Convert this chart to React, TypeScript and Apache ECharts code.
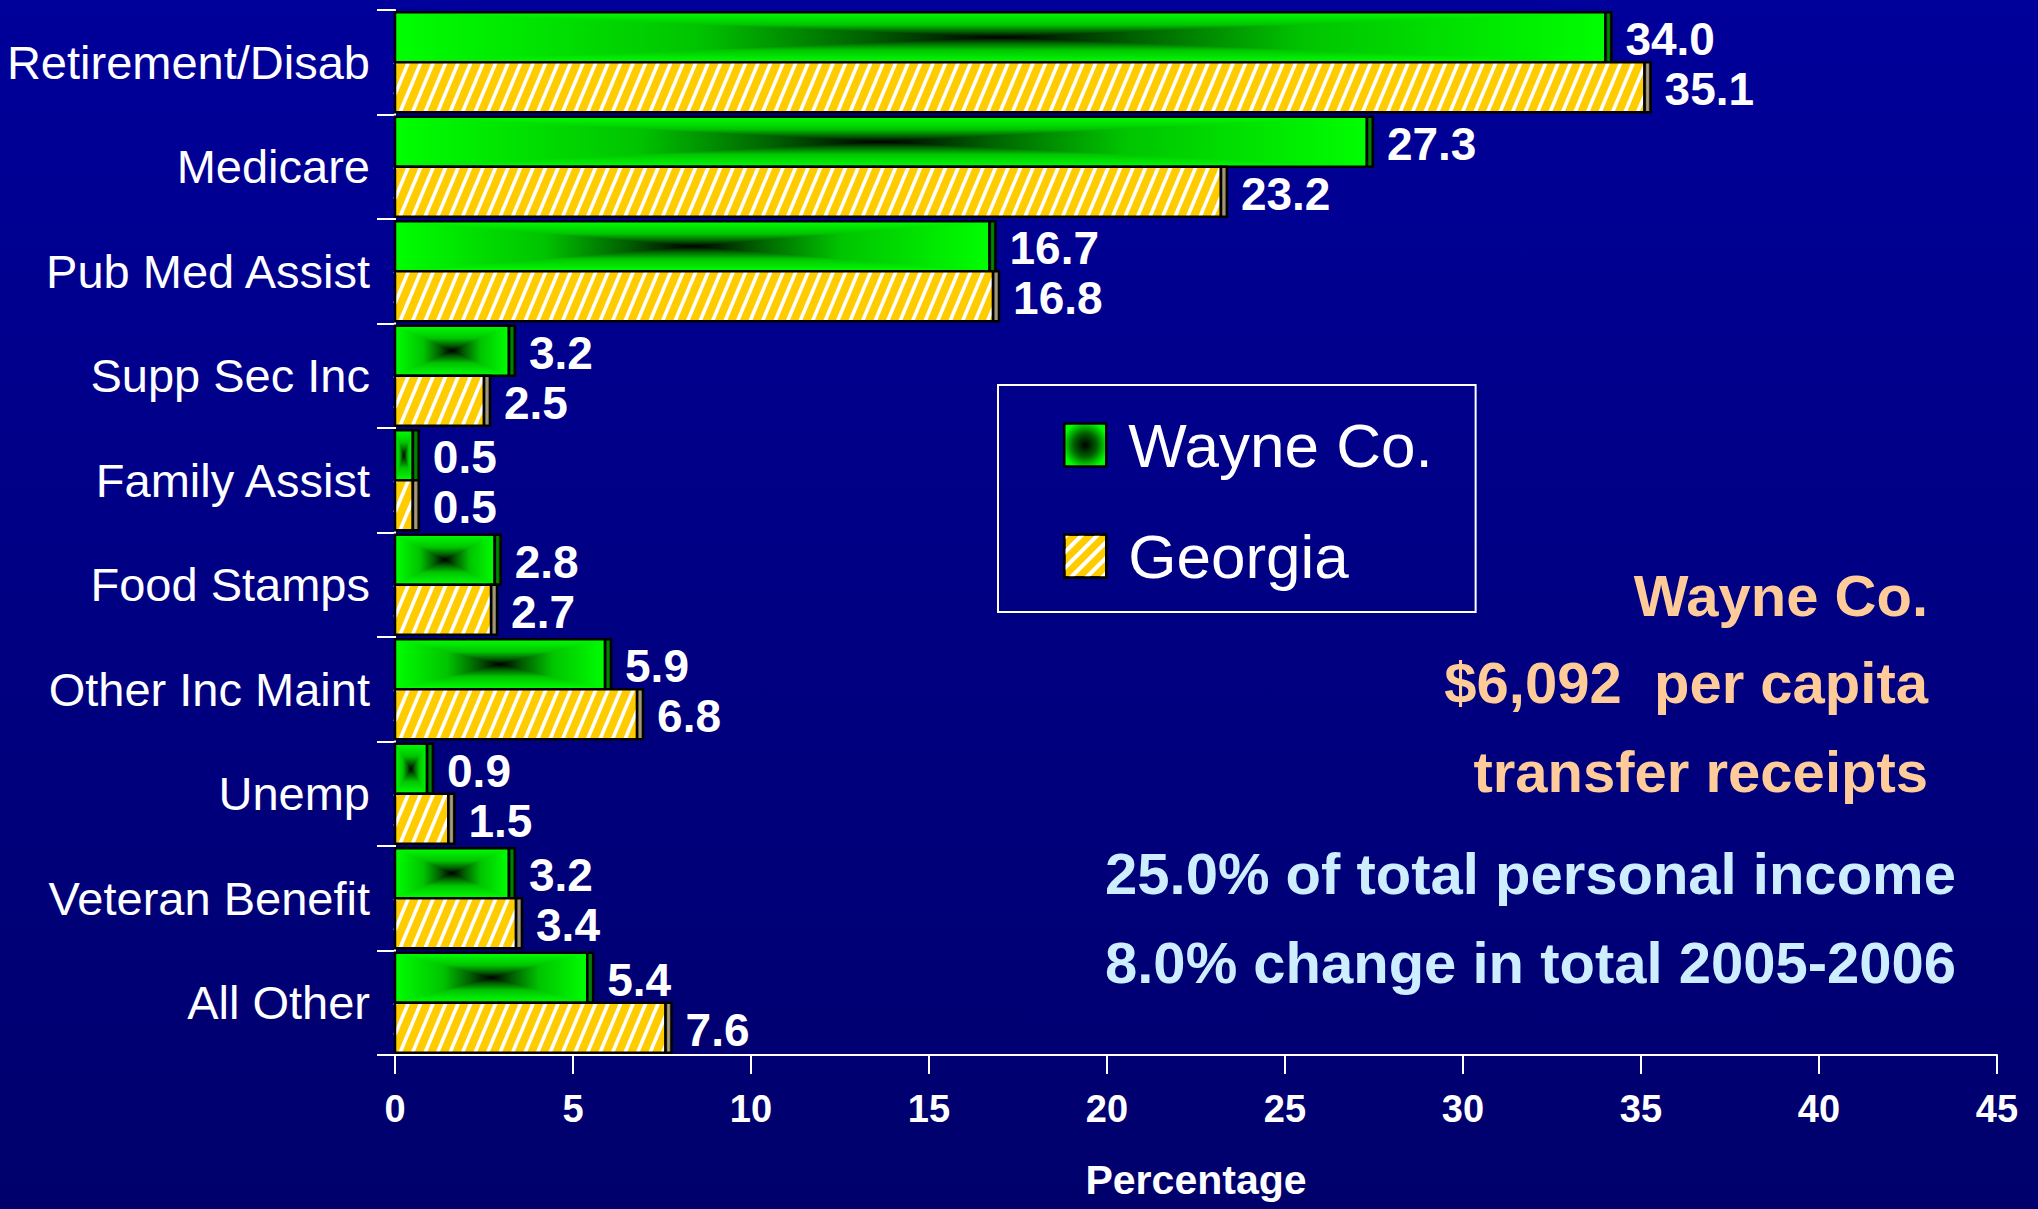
import React, { useEffect, useRef } from 'react';
import * as echarts from 'echarts';

// ---------- data ----------
const categories = [
  'Retirement/Disab',
  'Medicare',
  'Pub Med Assist',
  'Supp Sec Inc',
  'Family Assist',
  'Food Stamps',
  'Other Inc Maint',
  'Unemp',
  'Veteran Benefit',
  'All Other',
];
const wayneValues = [34.0, 27.3, 16.7, 3.2, 0.5, 2.8, 5.9, 0.9, 3.2, 5.4];
const georgiaValues = [35.1, 23.2, 16.8, 2.5, 0.5, 2.7, 6.8, 1.5, 3.4, 7.6];
const seriesNames = ['Wayne Co.', 'Georgia'];
const xMin = 0;
const xMax = 45;
const xInterval = 5;
const axisTitle = 'Percentage';
const noteLines = ['Wayne Co.', '$6,092  per capita', 'transfer receipts'];
const statLines = ['25.0% of total personal income', '8.0% change in total 2005-2006'];

// ---------- styles ----------
const SANS = "'Liberation Sans', Arial, Helvetica, sans-serif";
const greenStops: [number, string][] = [
  [0, '#00ff00'],
  [0.5, '#00c400'],
  [0.78, '#006000'],
  [1, '#000000'],
];

function lin(x: number, y: number, x2: number, y2: number, stops: [number, string][]) {
  return {
    type: 'linear',
    x,
    y,
    x2,
    y2,
    colorStops: stops.map(([offset, color]) => ({ offset, color })),
  };
}

function symmetricStops(stops: [number, string][]): [number, string][] {
  const first = stops.map(([o, c]) => [o * 0.5, c] as [number, string]);
  const second = stops
    .slice(0, -1)
    .reverse()
    .map(([o, c]) => [1 - o * 0.5, c] as [number, string]);
  return [...first, ...second];
}

function makeRenderItem(kind: 'green' | 'yellow') {
  return (params: any, api: any) => {
    const val = api.value(0) as number;
    const idx = api.value(1) as number;
    const p0 = api.coord([0, idx]);
    const p1 = api.coord([val, idx]);
    const band = api.size([0, 1])[1] as number;
    const barH = band * 0.478;
    const x0 = p0[0];
    const x1 = p1[0];
    const y0 = kind === 'green' ? p0[1] - barH : p0[1];
    const y1 = y0 + barH;
    const w = x1 - x0;
    const depth = 6;
    const children: any[] = [];

    if (kind === 'green') {
      const cx = (x0 + x1) / 2;
      const cy = (y0 + y1) / 2;
      children.push({
        type: 'rect',
        shape: { x: x0, y: y0, width: w, height: barH },
        style: { fill: lin(0, 0, 0, 1, symmetricStops(greenStops)) },
      });
      children.push({
        type: 'polygon',
        shape: { points: [[x0, y0], [x1, y0], [cx, cy]] },
        style: { fill: lin(0, 0, 0, 1, greenStops) },
      });
      children.push({
        type: 'polygon',
        shape: { points: [[x0, y1], [x1, y1], [cx, cy]] },
        style: { fill: lin(0, 1, 0, 0, greenStops) },
      });
      children.push({
        type: 'polygon',
        shape: { points: [[x0, y0], [x0, y1], [cx, cy]] },
        style: { fill: lin(0, 0, 1, 0, greenStops) },
      });
      children.push({
        type: 'polygon',
        shape: { points: [[x1, y0], [x1, y1], [cx, cy]] },
        style: { fill: lin(1, 0, 0, 0, greenStops) },
      });
    } else {
      children.push({
        type: 'rect',
        shape: { x: x0, y: y0, width: w, height: barH },
        style: { fill: '#ffcc00' },
      });
      const k = 0.42;
      const sp = 12.5;
      const h = barH;
      const startA = Math.floor((x0 - k * h) / sp) * sp;
      for (let a = startA; a < x1; a += sp) {
        let xs = a;
        let ys = y1;
        let xe = a + k * h;
        let ye = y0;
        if (xs < x0) {
          ys = y1 - (x0 - a) / k;
          xs = x0;
        }
        if (xe > x1) {
          ye = y1 - (x1 - a) / k;
          xe = x1;
        }
        if (xe <= xs) continue;
        children.push({
          type: 'line',
          shape: { x1: xs, y1: ys, x2: xe, y2: ye },
          style: { stroke: '#ffffff', lineWidth: 3.6 },
        });
      }
    }

    // front border
    children.push({
      type: 'rect',
      shape: { x: x0, y: y0, width: w, height: barH },
      style: { fill: 'none', stroke: '#000000', lineWidth: 2.5 },
    });
    // 3D side strip
    children.push({
      type: 'rect',
      shape: { x: x1, y: y0, width: depth, height: barH },
      style: {
        fill:
          kind === 'green'
            ? lin(0, 0, 1, 0, [
                [0, '#004d00'],
                [0.5, '#008a00'],
                [1, '#004d00'],
              ])
            : lin(0, 0, 1, 0, [
                [0, '#6e5f2c'],
                [0.5, '#a8a08a'],
                [1, '#6e5f2c'],
              ]),
        stroke: '#000000',
        lineWidth: 2.5,
      },
    });
    // value label
    children.push({
      type: 'text',
      z2: 50,
      style: {
        x: x1 + 20,
        y: (y0 + y1) / 2 + 2,
        text: val.toFixed(1),
        fill: '#ffffff',
        font: `bold 46px ${SANS}`,
        align: 'left',
        verticalAlign: 'middle',
      },
    });
    return { type: 'group', children };
  };
}

export default function App() {
  const ref = useRef<HTMLDivElement>(null);

  useEffect(() => {
    if (!ref.current) return;
    const chart = echarts.init(ref.current, undefined, { renderer: 'svg' });

    const option: any = {
      animation: false,
      backgroundColor: lin(0, 0, 0, 1, [
        [0, '#00009a'],
        [1, '#00006c'],
      ]),
      grid: {
        left: 395,
        right: 41,
        top: 10,
        bottom: 154,
        containLabel: false,
        outerBoundsMode: 'none',
      },
      legend: {
        orient: 'vertical',
        left: 998,
        top: 385,
        padding: [24, 43, 20, 65],
        borderColor: '#ffffff',
        borderWidth: 2,
        itemWidth: 42,
        itemHeight: 43,
        itemGap: 39,
        selectedMode: false,
        textStyle: {
          color: '#ffffff',
          fontSize: 62,
          fontFamily: SANS,
          lineHeight: 72,
          padding: [0, 0, 0, 17],
        },
        data: [
          {
            name: seriesNames[0],
            icon: 'rect',
            itemStyle: {
              color: {
                type: 'radial',
                x: 0.5,
                y: 0.5,
                r: 0.55,
                colorStops: [
                  { offset: 0, color: '#000000' },
                  { offset: 0.5, color: '#006000' },
                  { offset: 1, color: '#00ff00' },
                ],
              },
              borderColor: '#000000',
              borderWidth: 2.5,
            },
          },
          {
            name: seriesNames[1],
            icon: 'rect',
            itemStyle: {
              color: '#ffcc00',
              borderColor: '#000000',
              borderWidth: 2.5,
              decal: {
                symbol: 'rect',
                symbolSize: 1,
                color: '#ffffff',
                dashArrayX: [1, 0],
                dashArrayY: [4, 7],
                rotation: -Math.PI / 4,
              },
            },
          },
        ],
      },
      xAxis: {
        type: 'value',
        min: xMin,
        max: xMax,
        interval: xInterval,
        name: axisTitle,
        nameLocation: 'middle',
        nameGap: 104,
        nameTextStyle: {
          color: '#ffffff',
          fontSize: 41,
          fontWeight: 'bold',
          fontFamily: SANS,
        },
        axisLine: { show: true, lineStyle: { color: '#ffffff', width: 2 } },
        axisTick: { show: true, length: 19, lineStyle: { color: '#ffffff', width: 2 } },
        axisLabel: {
          color: '#ffffff',
          fontSize: 38,
          fontWeight: 'bold',
          fontFamily: SANS,
          margin: 35,
        },
        splitLine: { show: false },
      },
      yAxis: {
        type: 'category',
        data: categories,
        inverse: true,
        axisLine: { show: true, lineStyle: { color: '#ffffff', width: 2 } },
        axisTick: { show: true, length: 18, lineStyle: { color: '#ffffff', width: 2 } },
        axisLabel: {
          color: '#ffffff',
          fontSize: 47,
          fontFamily: SANS,
          margin: 25,
        },
        splitLine: { show: false },
      },
      series: [
        {
          name: seriesNames[0],
          type: 'custom',
          renderItem: makeRenderItem('green'),
          encode: { x: 0, y: 1 },
          data: wayneValues.map((v, i) => [v, i]),
          clip: false,
          z: 3,
        },
        {
          name: seriesNames[1],
          type: 'custom',
          renderItem: makeRenderItem('yellow'),
          encode: { x: 0, y: 1 },
          data: georgiaValues.map((v, i) => [v, i]),
          clip: false,
          z: 3,
        },
      ],
      graphic: [
        ...noteLines.map((t, i) => ({
          type: 'text',
          x: 1928,
          y: [595, 682, 771][i],
          style: {
            text: t,
            fill: '#ffcc99',
            font: `bold 58px ${SANS}`,
            align: 'right',
            verticalAlign: 'middle',
          },
        })),
        ...statLines.map((t, i) => ({
          type: 'text',
          x: 1105,
          y: [873, 962][i],
          style: {
            text: t,
            fill: '#cceeff',
            font: `bold 58px ${SANS}`,
            align: 'left',
            verticalAlign: 'middle',
          },
        })),
      ],
    };

    chart.setOption(option);
    const onResize = () => chart.resize();
    window.addEventListener('resize', onResize);
    return () => {
      window.removeEventListener('resize', onResize);
      chart.dispose();
    };
  }, []);

  return (
    <div
      ref={ref}
      style={{ position: 'fixed', left: 0, top: 0, width: 2038, height: 1209 }}
    />
  );
}
